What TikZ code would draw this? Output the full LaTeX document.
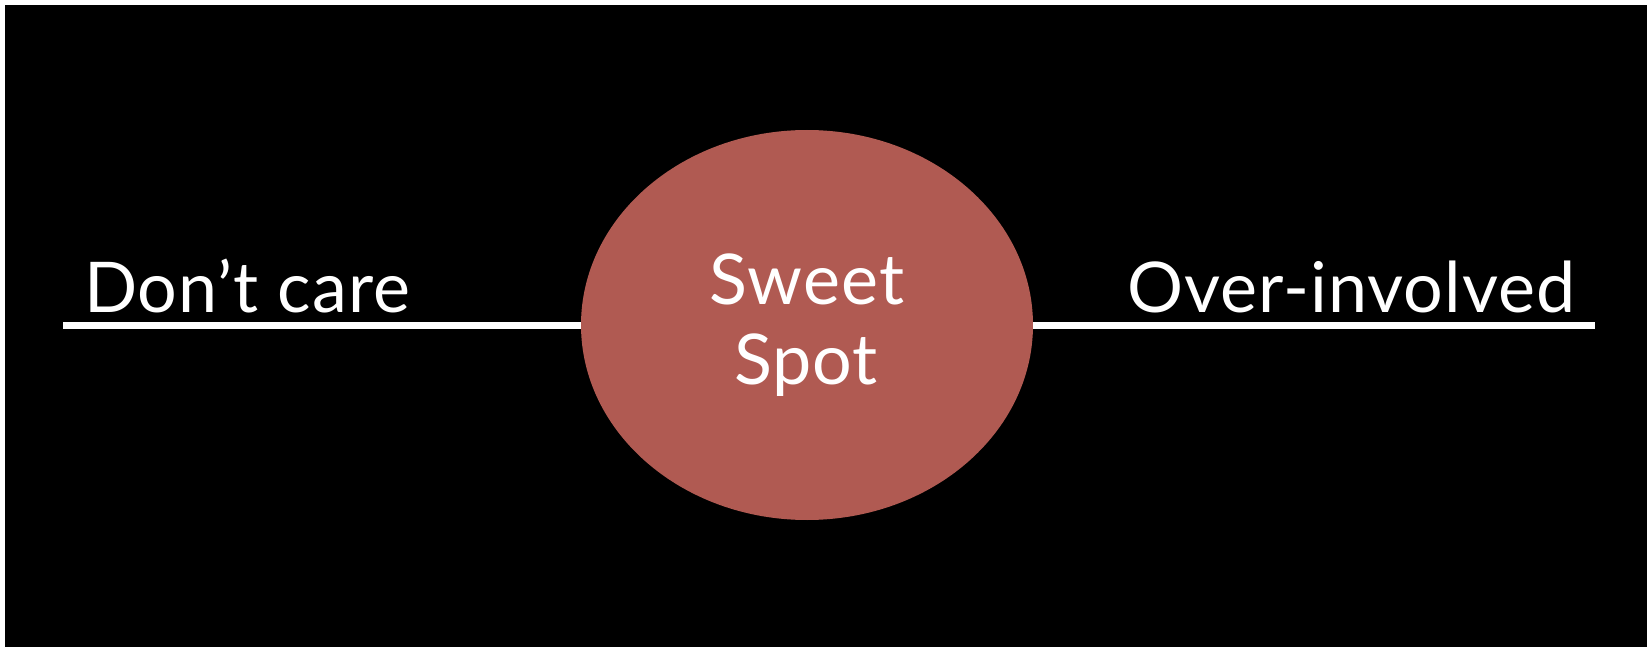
\documentclass[tikz,border=0pt]{standalone}
\usepackage{fontspec}
\setmainfont{Lato}[LetterSpace=1.5]
\usetikzlibrary{shapes.geometric}
\definecolor{spot}{HTML}{B05A52}
\begin{document}
\begin{tikzpicture}[x=1pt,y=-1pt,
  txt/.style={text=white,font=\fontsize{70}{84}\selectfont,inner sep=0pt},
  lbl/.style={txt,anchor=base west},
  axis/.style={draw=white,line width=7pt}]
\useasboundingbox (0,0) rectangle (1647,647);
\fill[white] (0,0) rectangle (1647,647);
\fill[black] (5,5) rectangle (1647,647);
\node[ellipse,fill=spot,minimum width=452pt,minimum height=390pt,inner sep=0pt] (spot) at (807,325) {};
\coordinate (L) at (63,325);
\coordinate (R) at (1595,325);
\draw[axis] (L) -- (spot.west);
\draw[axis] (spot.east) -- (R);
\node[lbl] (dc) at (84,312) {Don’t care};
\node[lbl] (oi) at (1127,312) {Over-involved};
\node[txt,anchor=base] (sw) at (807,305) {Sweet};
\node[txt,anchor=base] (sp) at (806,384) {Spot};
\end{tikzpicture}
\end{document}
